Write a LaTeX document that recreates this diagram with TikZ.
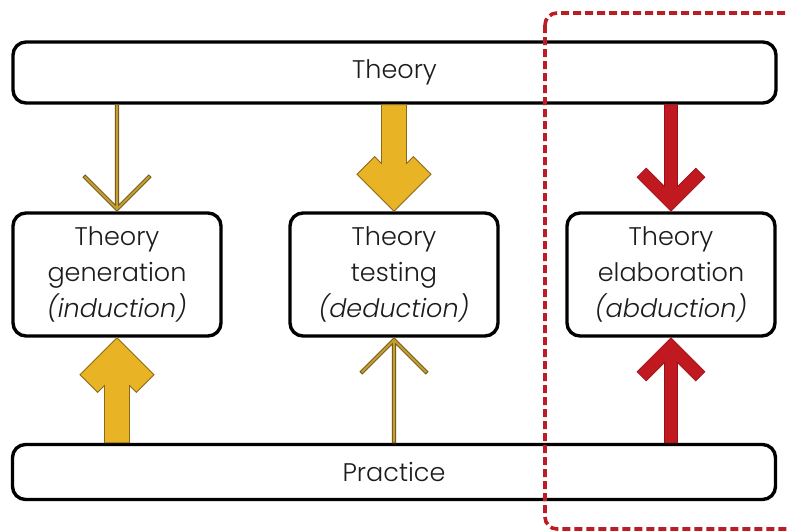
\documentclass[tikz,border=0pt]{standalone}
\usepackage{fontspec}
\setmainfont{Poppins}[UprightFont=* Light, ItalicFont=* Light Italic]
\usetikzlibrary{calc}

\definecolor{goldfill}{RGB}{232,180,38}
\definecolor{goldedge}{RGB}{140,105,22}
\definecolor{oliveline}{RGB}{196,158,48}
\definecolor{oliveedge}{RGB}{120,92,30}
\definecolor{redfill}{RGB}{192,26,32}
\definecolor{rededge}{RGB}{150,16,22}
\definecolor{dashred}{RGB}{186,30,36}
\definecolor{ink}{RGB}{28,28,28}

% Open-headed block arrow: style, start, tip, half shaft width, wing reach, direction (+1 up / -1 down)
\newcommand\openarrow[6]{%
  \path[#1] let \p1=(#2), \p2=(#3) in
    (\x2,\y2)
    -- ({\x2-#5},{\y2-(#6)*#5})
    -- ({\x2-#5+1.41421*#4},{\y2-(#6)*#5-(#6)*1.41421*#4})
    -- ({\x2-#4},{\y2-(#6)*3.82843*#4})
    -- ({\x2-#4},\y1)
    -- ({\x2+#4},\y1)
    -- ({\x2+#4},{\y2-(#6)*3.82843*#4})
    -- ({\x2+#5-1.41421*#4},{\y2-(#6)*#5-(#6)*1.41421*#4})
    -- ({\x2+#5},{\y2-(#6)*#5})
    -- cycle;}

\tikzset{
  panel/.style={draw=black, line width=3.4pt, rounded corners=13pt, fill=white,
    text=ink, align=center, inner sep=0pt,
    font=\fontsize{25.5}{36}\selectfont},
  bar/.style={panel, minimum width=763pt},
  stage/.style={panel, minimum width=208pt, minimum height=123pt},
  thinarrow/.style={fill=oliveline, draw=oliveedge, line width=0.9pt, line join=miter},
  goldarrow/.style={fill=goldfill, draw=goldedge, line width=0.8pt, line join=miter},
  redarrow/.style={fill=redfill, draw=rededge, line width=0.6pt, line join=miter},
  zone/.style={draw=dashred, line width=3.6pt, dash pattern=on 8pt off 4pt, rounded corners=12pt}
}

\begin{document}
\begin{tikzpicture}[x=1pt, y=-1pt]
  \useasboundingbox (0,0) rectangle (787,531);
  \clip (0,0) rectangle (787,531);
  \fill[white] (0,0) rectangle (787,531);

  % horizontal bars
  \node[bar, minimum height=61pt] (theory) at (394.5,72.5) {Theory};
  \node[bar, minimum height=55pt] (practice) at (394,472) {Practice};

  % the three research stages
  \node[stage] (gen) at (117,274.5) {Theory\\generation\\\textit{(induction)}};
  \node[stage] (test) at (394,274.5) {Theory\\testing\\\textit{(deduction)}};
  \node[stage] (elab) at (671,274.5) {Theory\\elaboration\\\textit{(abduction)}};

  % anchor points for the connectors
  \coordinate (tg) at (theory.south -| gen.north);
  \coordinate (tt) at (theory.south -| test.north);
  \coordinate (te) at (theory.south -| elab.north);
  \coordinate (pg) at (practice.north -| gen.south);
  \coordinate (pt) at (practice.north -| test.south);
  \coordinate (pe) at (practice.north -| elab.south);

  % theory -> stages
  \openarrow{thinarrow}{tg}{gen.north}{1.6pt}{34pt}{-1}
  \openarrow{goldarrow}{tt}{test.north}{12.5pt}{37pt}{-1}
  \openarrow{redarrow}{te}{elab.north}{6.5pt}{34pt}{-1}

  % practice -> stages
  \openarrow{goldarrow}{pg}{gen.south}{12.5pt}{37pt}{1}
  \openarrow{thinarrow}{pt}{test.south}{1.6pt}{34pt}{1}
  \openarrow{redarrow}{pe}{elab.south}{6.5pt}{34pt}{1}

  % dashed frame around the abduction column
  \coordinate (zoneA) at (545,13);
  \coordinate (zoneB) at (805,529);
  \draw[zone] (zoneA) rectangle (zoneB);
\end{tikzpicture}
\end{document}
